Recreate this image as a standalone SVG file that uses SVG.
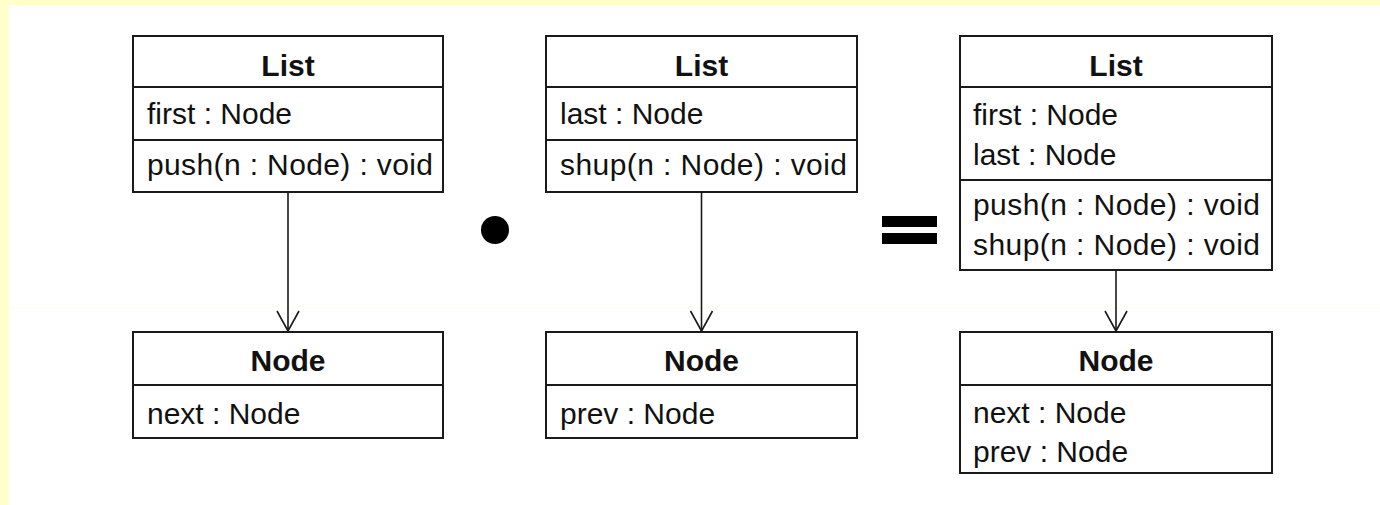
<svg xmlns="http://www.w3.org/2000/svg" width="1380" height="505" viewBox="0 0 1380 505">
  <style>
    .box { fill: #ffffff; stroke: #1a1a1a; stroke-width: 2; }
    .sep { stroke: #1a1a1a; stroke-width: 2; }
    .title { font-family: "Liberation Sans", Arial, sans-serif; font-size: 30px; font-weight: bold; fill: #111111; text-anchor: middle; }
    .member { font-family: "Liberation Sans", Arial, sans-serif; font-size: 30px; fill: #111111; }
    .edge { stroke: #1a1a1a; stroke-width: 1.6; fill: none; }
  </style>
  <defs>
    <!-- open "V" arrowhead, tip pointing along the path direction -->
    <marker id="open-arrow" markerWidth="24" markerHeight="26" refX="21" refY="12" orient="auto" markerUnits="userSpaceOnUse" viewBox="0 0 24 26">
      <path d="M1,1 L21,12 L1,23" fill="none" stroke="#1a1a1a" stroke-width="1.6"/>
    </marker>
  </defs>

  <!-- page background with yellow margin -->
  <rect x="0" y="0" width="1380" height="505" fill="#ffffcc"/>
  <rect x="9" y="5" width="1371" height="500" fill="#ffffff"/>
  <line x1="9" y1="308" x2="1380" y2="308" stroke="#fffde6" stroke-width="1"/>

  <!-- connectors -->
  <g id="connectors">
    <line class="edge" x1="288" y1="192" x2="288" y2="331" marker-end="url(#open-arrow)"/>
    <line class="edge" x1="701.5" y1="192" x2="701.5" y2="331" marker-end="url(#open-arrow)"/>
    <line class="edge" x1="1116" y1="270" x2="1116" y2="331" marker-end="url(#open-arrow)"/>
  </g>

  <!-- first operand -->
  <g id="list-a">
    <rect class="box" x="133" y="36" width="310" height="156"/>
    <line class="sep" x1="133" y1="87" x2="443" y2="87"/>
    <line class="sep" x1="133" y1="140" x2="443" y2="140"/>
    <text class="title" x="288" y="76">List</text>
    <text class="member" x="147" y="124">first : Node</text>
    <text class="member" x="147" y="175" textLength="286" lengthAdjust="spacing">push(n : Node) : void</text>
  </g>
  <g id="node-a">
    <rect class="box" x="133" y="332" width="310" height="106"/>
    <line class="sep" x1="133" y1="385" x2="443" y2="385"/>
    <text class="title" x="288" y="371">Node</text>
    <text class="member" x="147" y="424">next : Node</text>
  </g>

  <!-- composition operator -->
  <g id="dot-operator">
    <circle cx="495" cy="230" r="14" fill="#000000"/>
  </g>

  <!-- second operand -->
  <g id="list-b">
    <rect class="box" x="546" y="36" width="311" height="156"/>
    <line class="sep" x1="546" y1="87" x2="857" y2="87"/>
    <line class="sep" x1="546" y1="140" x2="857" y2="140"/>
    <text class="title" x="701.5" y="76">List</text>
    <text class="member" x="560" y="124">last : Node</text>
    <text class="member" x="560" y="175" textLength="287" lengthAdjust="spacing">shup(n : Node) : void</text>
  </g>
  <g id="node-b">
    <rect class="box" x="546" y="332" width="311" height="106"/>
    <line class="sep" x1="546" y1="385" x2="857" y2="385"/>
    <text class="title" x="701.5" y="371">Node</text>
    <text class="member" x="560" y="424">prev : Node</text>
  </g>

  <!-- equals operator -->
  <g id="equals-operator">
    <rect x="882" y="216" width="55" height="11" fill="#000000"/>
    <rect x="882" y="233" width="55" height="11" fill="#000000"/>
  </g>

  <!-- result -->
  <g id="list-result">
    <rect class="box" x="960" y="36" width="312" height="234"/>
    <line class="sep" x1="960" y1="87" x2="1272" y2="87"/>
    <line class="sep" x1="960" y1="180" x2="1272" y2="180"/>
    <text class="title" x="1116" y="76">List</text>
    <text class="member" x="973" y="125">first : Node</text>
    <text class="member" x="973" y="165">last : Node</text>
    <text class="member" x="973" y="215" textLength="287" lengthAdjust="spacing">push(n : Node) : void</text>
    <text class="member" x="973" y="255" textLength="287" lengthAdjust="spacing">shup(n : Node) : void</text>
  </g>
  <g id="node-result">
    <rect class="box" x="960" y="332" width="312" height="141"/>
    <line class="sep" x1="960" y1="385" x2="1272" y2="385"/>
    <text class="title" x="1116" y="371">Node</text>
    <text class="member" x="973" y="423">next : Node</text>
    <text class="member" x="973" y="462">prev : Node</text>
  </g>
</svg>
